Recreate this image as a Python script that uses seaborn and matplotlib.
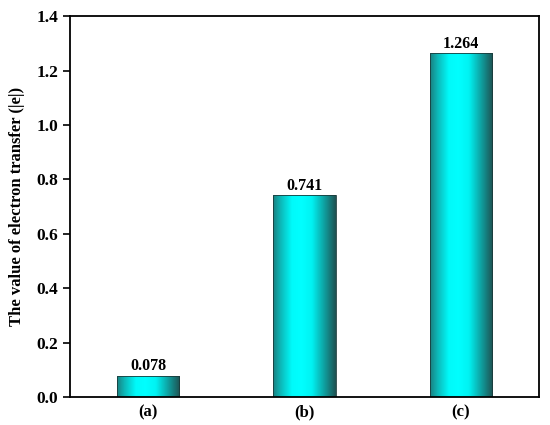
import matplotlib
matplotlib.use("Agg")
import matplotlib.pyplot as plt
import seaborn as sns
import numpy as np
import pandas as pd
from matplotlib.colors import LinearSegmentedColormap

# data
samples = ["(a)", "(b)", "(c)"]
transfer = [0.078, 0.741, 1.264]
value_labels = ["0.078", "0.741", "1.264"]

sns.set_style("ticks")
plt.rcParams["font.family"] = ["Liberation Serif", "DejaVu Serif"]
plt.rcParams["font.weight"] = "bold"
plt.rcParams["text.color"] = "black"
plt.rcParams["axes.labelcolor"] = "black"
plt.rcParams["xtick.color"] = "black"
plt.rcParams["ytick.color"] = "black"

data = pd.DataFrame({"sample": samples, "transfer": transfer})

fig = plt.figure(figsize=(5.5, 4.25), dpi=100)
ax = fig.add_axes([0.127, 0.066, 0.853, 0.896])

sns.barplot(data=data, x="sample", y="transfer", width=0.4, color="#00ffff",
            edgecolor="#1a3a3a", linewidth=0.6, ax=ax)

# horizontal shading of the bars: teal edges, bright cyan middle
cmap = LinearSegmentedColormap.from_list(
    "cyanbar", [(0.0, (0.10, 0.50, 0.50)), (0.12, (0.05, 0.72, 0.72)),
                (0.30, (0.0, 0.98, 0.98)), (0.45, (0.0, 1.0, 1.0)),
                (0.62, (0.0, 0.95, 0.95)), (0.82, (0.06, 0.62, 0.62)),
                (1.0, (0.12, 0.32, 0.32))])
grad = np.linspace(0, 1, 256).reshape(1, -1)
for patch in ax.patches:
    x0, y0 = patch.get_x(), patch.get_y()
    w, h = patch.get_width(), patch.get_height()
    im = ax.imshow(grad, cmap=cmap, aspect="auto", extent=[x0, x0 + w, y0, y0 + h],
                   interpolation="bilinear", zorder=patch.get_zorder() + 0.1)
    im.set_clip_path(patch)
    patch.set_facecolor("none")
    patch.set_zorder(patch.get_zorder() + 0.2)

for i, lab in enumerate(value_labels):
    ax.text(i, transfer[i] + 0.006, lab, ha="center", va="bottom",
            fontsize=11.5, fontweight="bold")

ax.set_xlim(-0.5, 2.5)
ax.set_ylim(0, 1.4)
ax.set_yticks(np.arange(0, 1.41, 0.2))
ax.set_yticklabels([f"{v:.1f}" for v in np.arange(0, 1.41, 0.2)])
ax.set_xlabel("")
ax.set_ylabel("The value of electron transfer (|e|)", fontsize=12, fontweight="bold",
              labelpad=8)
ax.tick_params(axis="y", direction="out", length=5, width=1.2, labelsize=12.5)
ax.tick_params(axis="x", length=0, labelsize=12, pad=5)
for lab in ax.get_xticklabels() + ax.get_yticklabels():
    lab.set_fontweight("bold")
for sp in ax.spines.values():
    sp.set_linewidth(1.3)
    sp.set_color("black")

fig.savefig("out.png", dpi=100)
